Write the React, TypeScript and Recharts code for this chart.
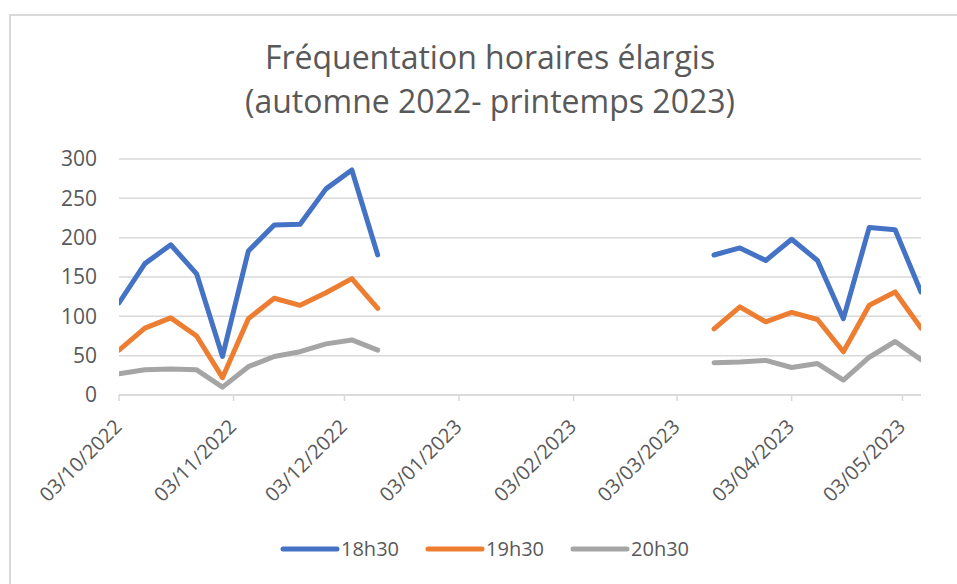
import React from "react";
import { LineChart, Line, XAxis, YAxis, CartesianGrid } from "recharts";

const weeks = [
  "2022-10-03", "2022-10-10", "2022-10-17", "2022-10-24", "2022-10-31",
  "2022-11-07", "2022-11-14", "2022-11-21", "2022-11-28", "2022-12-05",
  "2022-12-12", "2022-12-19", "2022-12-26", "2023-01-02", "2023-01-09",
  "2023-01-16", "2023-01-23", "2023-01-30", "2023-02-06", "2023-02-13",
  "2023-02-20", "2023-02-27", "2023-03-06", "2023-03-13", "2023-03-20",
  "2023-03-27", "2023-04-03", "2023-04-10", "2023-04-17", "2023-04-24",
  "2023-05-01", "2023-05-08",
];

const s1830 = [
  117, 167, 191, 154, 49, 183, 216, 217, 262, 286, 178,
  null, null, null, null, null, null, null, null, null, null, null, null,
  178, 187, 171, 198, 171, 97, 213, 210, 131,
];
const s1930 = [
  57, 85, 98, 75, 22, 97, 123, 114, 130, 148, 110,
  null, null, null, null, null, null, null, null, null, null, null, null,
  84, 112, 93, 105, 96, 55, 114, 131, 85,
];
const s2030 = [
  27, 32, 33, 32, 10, 36, 49, 55, 65, 70, 57,
  null, null, null, null, null, null, null, null, null, null, null, null,
  41, 42, 44, 35, 40, 19, 48, 68, 45,
];

const xTickDates = [
  "2022-10-03", "2022-11-03", "2022-12-03", "2023-01-03",
  "2023-02-03", "2023-03-03", "2023-04-03", "2023-05-03",
];
const yTicks = [0, 50, 100, 150, 200, 250, 300];

const seriesNames = ["18h30", "19h30", "20h30"];
const colors = ["#4472C4", "#ED7D31", "#A5A5A5"];

const toTs = (s: string) => new Date(s + "T00:00:00Z").getTime();

const data = weeks.map((w, i) => ({
  t: toTs(w),
  "18h30": s1830[i],
  "19h30": s1930[i],
  "20h30": s2030[i],
}));

const xTicks = xTickDates.map(toTs);

const pad = (n: number) => (n < 10 ? "0" + n : "" + n);
const fmtDate = (ts: number) => {
  const d = new Date(ts);
  return `${pad(d.getUTCDate())}/${pad(d.getUTCMonth() + 1)}/${d.getUTCFullYear()}`;
};

const FONT = "'Open Sans', sans-serif";
const TEXT = "#595959";

const XTick = (props: any) => {
  const { x, y, payload } = props;
  const tx = x + 4;
  const ty = y + 27;
  return (
    <text
      x={tx}
      y={ty}
      textAnchor="end"
      fill={TEXT}
      fontSize={20}
      fontFamily={FONT}
      transform={`rotate(-45, ${tx}, ${ty})`}
    >
      {fmtDate(payload.value)}
    </text>
  );
};

const LegendBox = () => (
  <div
    style={{
      position: "absolute",
      left: 280,
      top: 537,
      display: "flex",
      alignItems: "center",
      fontFamily: FONT,
      fontSize: 20,
      color: TEXT,
    }}
  >
    {seriesNames.map((n, i) => (
      <div key={n} style={{ display: "flex", alignItems: "center", marginRight: i < 2 ? 26 : 0 }}>
        <svg width={60} height={10} style={{ display: "block" }}>
          <line x1={3} y1={5} x2={57} y2={5} stroke={colors[i]} strokeWidth={5} strokeLinecap="round" />
        </svg>
        <span style={{ marginLeft: 1, lineHeight: "24px" }}>{n}</span>
      </div>
    ))}
  </div>
);

export default function App() {
  return (
    <div style={{ position: "fixed", left: 0, top: 0, width: 957, height: 584, background: "#fff", overflow: "hidden" }}>
      <svg width={957} height={584} style={{ position: "absolute", left: 0, top: 0 }}>
        <rect x={10} y={15} width={980} height={600} fill="#fff" stroke="#d9d9d9" strokeWidth={2} />
        <text x={490} y={69} textAnchor="middle" fontFamily={FONT} fontSize={32} fill={TEXT}>
          Fréquentation horaires élargis
        </text>
        <text x={490} y={113} textAnchor="middle" fontFamily={FONT} fontSize={32} fill={TEXT}>
          (automne 2022- printemps 2023)
        </text>
      </svg>
      <div style={{ position: "absolute", left: 0, top: 0 }}>
        <LineChart
          width={957}
          height={584}
          data={data}
          margin={{ top: 159, right: 36, bottom: 129, left: 0 }}
        >
          <CartesianGrid vertical={false} stroke="#d9d9d9" strokeWidth={1.5} />
          <XAxis
            dataKey="t"
            type="number"
            scale="linear"
            domain={[toTs(weeks[0]), toTs(weeks[weeks.length - 1])]}
            ticks={xTicks}
            tick={<XTick />}
            tickSize={6}
            tickMargin={0}
            height={60}
            stroke="#d9d9d9"
            strokeWidth={1.5}
            tickLine={{ stroke: "#d9d9d9", strokeWidth: 1.5 }}
            interval={0}
            allowDataOverflow
          />
          <YAxis
            domain={[0, 300]}
            ticks={yTicks}
            width={119}
            axisLine={false}
            tickLine={false}
            tickSize={0}
            tickMargin={22}
            tick={{ fill: TEXT, fontSize: 21, fontFamily: FONT }}
            interval={0}
          />
          {seriesNames.map((n, i) => (
            <Line
              key={n}
              type="linear"
              dataKey={n}
              stroke={colors[i]}
              strokeWidth={5}
              strokeLinecap="round"
              strokeLinejoin="round"
              dot={false}
              activeDot={false}
              connectNulls={false}
              isAnimationActive={false}
            />
          ))}
        </LineChart>
      </div>
      <LegendBox />
    </div>
  );
}
